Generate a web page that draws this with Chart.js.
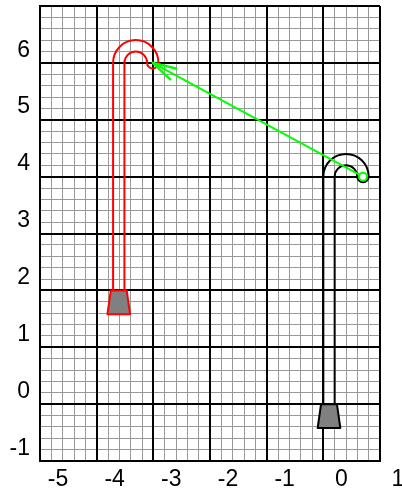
<!DOCTYPE html>
<html>
<head>
<meta charset="utf-8">
<script src="https://cdn.jsdelivr.net/npm/chart.js@4/dist/chart.umd.min.js"></script>
<style>
  html, body { margin: 0; padding: 0; background: #fff; }
  #wrap { width: 402px; height: 493px; }
</style>
</head>
<body>
<div id="wrap"><canvas id="chart"></canvas></div>
<script>
// ---------------- DATA ----------------
// axis ranges: the heavy grid sits a bit below the labelled integers
const xMin = -5.32, xMax = 0.68;
const yMin = -1.22, yMax = 6.78;
const xMajor = [-5.32, -4.32, -3.32, -2.32, -1.32, -0.32, 0.68];
const xLabels = ["-5", "-4", "-3", "-2", "-1", "0", "1"];
const yMajor = [-1.22, -0.22, 0.78, 1.78, 2.78, 3.78, 4.78, 5.78, 6.78];
const yLabels = ["-1", "0", "1", "2", "3", "4", "5", "6", ""];
const minorStep = 0.2;

// the two canes (outer wall x, bottom of tube, start of bend)
const caneWallX = [-0.32, -4.03];
const caneBaseY = [-0.22, 1.78];
const caneBendY = [3.78, 5.78];
const caneColors = ["#000000", "#ff0000"];

// green arrow: from the black cane tip to the red cane tip
const arrowX = [0.38, -3.33];
const arrowY = [3.78, 5.78];

// ---------------- HELPERS ----------------
function minorTicks(min, max) {
    const out = [];
    for (let v = min; v <= max + 1e-6; v += minorStep) out.push({ value: +v.toFixed(4) });
    return out;
}

const FONT = { family: "'Liberation Sans', Arial, sans-serif", size: 23 };

// ---------------- PLUGINS ----------------
const canePlugin = {
    id: "canes",
    beforeDatasetsDraw(chart) {
        const { ctx, scales: { x, y } } = chart;
        const px = v => x.getPixelForValue(v);
        const py = v => y.getPixelForValue(v);
        const ux = Math.abs(px(1) - px(0));
        const uy = Math.abs(py(1) - py(0));

        caneWallX.forEach((wx, i) => {
            const base = py(caneBaseY[i]);
            const bend = py(caneBendY[i]);
            ctx.save();
            ctx.strokeStyle = caneColors[i];
            ctx.lineWidth = 2;
            ctx.lineJoin = "round";

            ctx.beginPath();
            ctx.moveTo(px(wx), base);
            ctx.lineTo(px(wx), bend);
            ctx.ellipse(px(wx + 0.4), bend, 0.4 * ux, 0.4 * uy, 0, Math.PI, 2 * Math.PI);
            ctx.ellipse(px(wx + 0.7), bend, 0.1 * ux, 0.1 * uy, 0, 0, Math.PI);
            ctx.ellipse(px(wx + 0.4), bend, 0.2 * ux, 0.2 * uy, 0, 0, Math.PI, true);
            ctx.lineTo(px(wx + 0.2), base);
            ctx.stroke();

            // weight at the bottom
            const cx = wx + 0.1;
            const bot = py(caneBaseY[i] - 0.42);
            ctx.beginPath();
            ctx.moveTo(px(cx - 0.14), base);
            ctx.lineTo(px(cx + 0.14), base);
            ctx.lineTo(px(cx + 0.2), bot);
            ctx.lineTo(px(cx - 0.2), bot);
            ctx.closePath();
            ctx.fillStyle = "#808080";
            ctx.fill();
            ctx.stroke();
            ctx.restore();
        });
    },
    afterDatasetsDraw(chart) {
        const { ctx, scales: { x, y } } = chart;
        const tx = x.getPixelForValue(arrowX[1]), ty = y.getPixelForValue(arrowY[1]);
        const fx = x.getPixelForValue(arrowX[0]), fy = y.getPixelForValue(arrowY[0]);
        const ang = Math.atan2(fy - ty, fx - tx);
        const len = 24, spread = 15 * Math.PI / 180;
        ctx.save();
        ctx.strokeStyle = "#00ff00";
        ctx.lineWidth = 2.5;
        ctx.lineCap = "round";
        ctx.beginPath();
        [ang - spread, ang + spread].forEach(a => {
            ctx.moveTo(tx, ty);
            ctx.lineTo(tx + len * Math.cos(a), ty + len * Math.sin(a));
        });
        ctx.stroke();
        ctx.restore();
    }
};

// ---------------- CHART ----------------
new Chart(document.getElementById("chart"), {
    type: "scatter",
    data: {
        datasets: [{
            data: arrowX.map((v, i) => ({ x: v, y: arrowY[i] })),
            showLine: true,
            borderColor: "#00ff00",
            borderWidth: 2,
            pointRadius: [4, 0],
            pointBorderWidth: 2,
            pointBorderColor: "#00ff00",
            pointBackgroundColor: "#ffffff"
        }]
    },
    options: {
        responsive: true,
        maintainAspectRatio: false,
        animation: false,
        layout: { padding: { top: 6, right: 22, left: 0, bottom: 0 } },
        plugins: { legend: { display: false }, tooltip: { enabled: false } },
        scales: {
            x2: {
                type: "linear", position: "top", min: xMin, max: xMax,
                afterBuildTicks: s => { s.ticks = minorTicks(xMin, xMax); },
                afterFit: s => { s.height = 0; s.paddingLeft = 0; s.paddingRight = 0; },
                grid: { color: "#999999", lineWidth: 1, drawTicks: false, z: -2 },
                border: { display: false },
                ticks: { display: false }
            },
            y2: {
                type: "linear", position: "right", min: yMin, max: yMax,
                afterBuildTicks: s => { s.ticks = minorTicks(yMin, yMax); },
                afterFit: s => { s.width = 0; s.paddingTop = 0; s.paddingBottom = 0; },
                grid: { color: "#999999", lineWidth: 1, drawTicks: false, z: -2 },
                border: { display: false },
                ticks: { display: false }
            },
            x: {
                type: "linear", position: "bottom", min: xMin, max: xMax,
                afterBuildTicks: s => { s.ticks = xMajor.map(v => ({ value: v })); },
                afterFit: s => { s.height = 32; s.paddingLeft = 0; s.paddingRight = 0; },
                grid: { color: "#000", lineWidth: 2, drawTicks: false, z: -1 },
                border: { color: "#000", width: 2 },
                ticks: {
                    color: "#000", font: FONT, padding: 5, labelOffset: 18,
                    autoSkip: false, maxRotation: 0,
                    callback: (v, i) => xLabels[i]
                }
            },
            y: {
                type: "linear", position: "left", min: yMin, max: yMax,
                afterBuildTicks: s => { s.ticks = yMajor.map(v => ({ value: v })); },
                afterFit: s => { s.width = 40; s.paddingTop = 0; s.paddingBottom = 0; },
                grid: { color: "#000", lineWidth: 2, drawTicks: false, z: -1 },
                border: { color: "#000", width: 2 },
                ticks: {
                    color: "#000", font: FONT, padding: 10, labelOffset: -12.6,
                    autoSkip: false,
                    callback: (v, i) => yLabels[i]
                }
            }
        }
    },
    plugins: [canePlugin]
});
</script>
</body>
</html>
